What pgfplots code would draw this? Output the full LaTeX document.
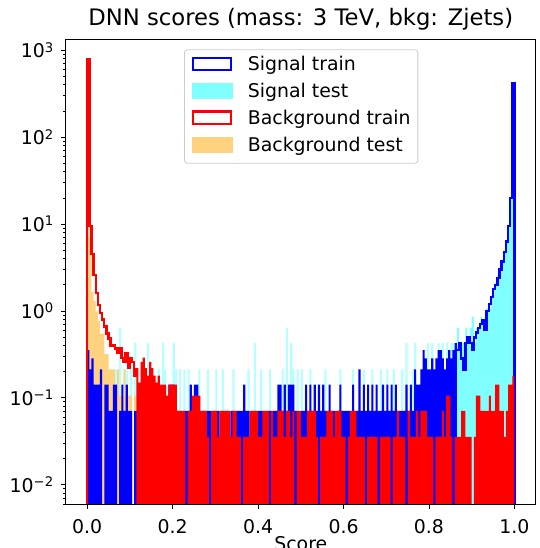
\documentclass[border=0pt]{standalone}
\usepackage{fontspec}
\setmainfont{DejaVu Sans}
\usepackage{pgfplots}
\pgfplotsset{compat=1.18}
\usepackage{pgfplotstable}
\definecolor{sigtest}{HTML}{80FFFF}
\definecolor{sigtestlight}{HTML}{B4FFFF}
\definecolor{bkgtest}{HTML}{FFD280}
\newcommand{\tl}[1]{10\raisebox{5.6pt}{\fontsize{13.2}{13.2}\selectfont #1}}
\pgfplotstableread{
x st se bt be
0.000 1e-4 1e-4 1e-4 1e-4
0.000 0.355 1.3 800 700
0.005 0.213 0.426 9.5 7
0.010 0.284 0.213 4.5 1.65
0.015 0.142 0.426 2.6 1.3
0.020 0.142 1e-4 1.6 0.99
0.025 0.142 0.213 1.17 0.77
0.030 0.213 1e-4 0.95 0.55
0.035 1e-4 0.213 0.80 0.55
0.040 0.142 1e-4 0.66 0.32
0.045 0.142 1e-4 0.55 0.32
0.050 0.071 0.213 0.48 0.213
0.055 0.071 1e-4 0.40 0.213
0.060 0.142 1e-4 0.40 0.213
0.065 0.142 0.213 0.37 0.1065
0.070 1e-4 1e-4 0.33 0.213
0.075 0.071 0.639 0.37 0.1065
0.080 0.142 1e-4 0.29 0.1065
0.085 0.071 1e-4 0.26 0.213
0.090 0.142 0.213 0.33 0.1065
0.095 0.071 1e-4 0.22 0.1065
0.100 0.071 0.213 0.29 0.1065
0.105 1e-4 1e-4 0.26 1e-4
0.110 0.071 0.426 0.18 0.1065
0.115 0.071 1e-4 0.22 1e-4
0.120 0.142 1e-4 0.15 1e-4
0.125 0.071 0.213 0.26 1e-4
0.130 0.071 1e-4 0.29 1e-4
0.135 1e-4 1e-4 0.22 1e-4
0.140 0.071 0.426 0.18 1e-4
0.145 0.071 1e-4 0.26 1e-4
0.150 0.142 0.213 0.22 1e-4
0.155 1e-4 1e-4 0.18 1e-4
0.160 0.071 1e-4 0.15 1e-4
0.165 0.071 0.213 0.18 1e-4
0.170 0.071 1e-4 0.142 1e-4
0.175 1e-4 0.426 0.142 1e-4
0.180 0.071 0.213 0.142 1e-4
0.185 0.071 1e-4 0.1065 1e-4
0.190 0.142 1e-4 0.142 1e-4
0.195 0.142 1e-4 0.142 1e-4
0.200 0.142 0.426 0.142 1e-4
0.205 0.071 0.213 0.142 1e-4
0.210 0.071 1e-4 0.071 1e-4
0.215 0.071 0.213 0.071 1e-4
0.220 1e-4 1e-4 0.071 1e-4
0.225 0.071 0.213 0.071 1e-4
0.230 0.071 1e-4 1e-4 1e-4
0.235 0.071 0.213 0.071 1e-4
0.240 0.142 1e-4 0.071 1e-4
0.245 0.071 1e-4 0.1065 1e-4
0.250 0.142 1e-4 0.1065 1e-4
0.255 0.142 1e-4 0.1065 1e-4
0.260 0.071 0.213 0.1065 1e-4
0.265 1e-4 1e-4 0.071 1e-4
0.270 0.071 1e-4 0.071 1e-4
0.275 0.071 1e-4 0.071 1e-4
0.280 0.071 0.213 0.0355 1e-4
0.285 0.071 1e-4 1e-4 1e-4
0.290 1e-4 1e-4 0.071 1e-4
0.295 0.071 1e-4 0.071 1e-4
0.300 0.071 0.213 0.071 1e-4
0.305 0.071 1e-4 0.0355 1e-4
0.310 1e-4 1e-4 0.071 1e-4
0.315 0.071 0.213 0.071 1e-4
0.320 0.071 1e-4 0.071 1e-4
0.325 0.071 1e-4 0.071 1e-4
0.330 1e-4 1e-4 0.071 1e-4
0.335 0.071 1e-4 0.0355 1e-4
0.340 0.071 0.213 0.071 1e-4
0.345 0.071 1e-4 0.071 1e-4
0.350 0.071 1e-4 0.0355 1e-4
0.355 0.071 1e-4 0.0355 1e-4
0.360 0.071 1e-4 1e-4 1e-4
0.365 0.142 1e-4 0.0355 1e-4
0.370 0.071 1e-4 0.0355 1e-4
0.375 0.071 0.213 0.0355 1e-4
0.380 1e-4 1e-4 0.071 1e-4
0.385 0.071 1e-4 0.071 1e-4
0.390 0.071 0.426 0.071 1e-4
0.395 1e-4 1e-4 0.071 1e-4
0.400 0.071 1e-4 0.0355 1e-4
0.405 0.071 0.213 0.0355 1e-4
0.410 0.071 1e-4 0.071 1e-4
0.415 1e-4 1e-4 0.071 1e-4
0.420 0.071 1e-4 0.071 1e-4
0.425 0.071 0.213 1e-4 1e-4
0.430 0.071 1e-4 0.071 1e-4
0.435 0.071 1e-4 0.0355 1e-4
0.440 0.071 1e-4 0.0355 1e-4
0.445 0.142 1e-4 0.071 1e-4
0.450 0.142 1e-4 0.071 1e-4
0.455 0.071 0.213 0.071 1e-4
0.460 0.142 1e-4 0.0355 1e-4
0.465 0.071 0.639 0.071 1e-4
0.470 0.142 1e-4 0.071 1e-4
0.475 0.142 0.426 0.0355 1e-4
0.480 0.142 0.213 0.071 1e-4
0.485 0.071 1e-4 1e-4 1e-4
0.490 0.071 0.213 0.071 1e-4
0.495 1e-4 1e-4 0.071 1e-4
0.500 0.071 0.213 0.0355 1e-4
0.505 0.071 1e-4 0.0355 1e-4
0.510 0.142 1e-4 0.0355 1e-4
0.515 0.071 1e-4 0.071 1e-4
0.520 0.142 0.213 0.071 1e-4
0.525 0.071 1e-4 0.071 1e-4
0.530 0.142 1e-4 0.071 1e-4
0.535 0.071 1e-4 0.0355 1e-4
0.540 0.142 1e-4 1e-4 1e-4
0.545 0.071 1e-4 0.0355 1e-4
0.550 0.142 1e-4 0.0355 1e-4
0.555 0.071 0.213 0.0355 1e-4
0.560 0.071 1e-4 0.071 1e-4
0.565 0.142 1e-4 0.071 1e-4
0.570 0.071 1e-4 0.071 1e-4
0.575 0.071 1e-4 0.0355 1e-4
0.580 1e-4 1e-4 0.071 1e-4
0.585 0.071 1e-4 0.071 1e-4
0.590 0.142 0.213 0.071 1e-4
0.595 0.071 1e-4 0.0355 1e-4
0.600 0.071 1e-4 0.0355 1e-4
0.605 0.071 1e-4 1e-4 1e-4
0.610 0.071 1e-4 0.0355 1e-4
0.615 1e-4 1e-4 0.071 1e-4
0.620 0.142 0.213 0.071 1e-4
0.625 0.071 1e-4 0.071 1e-4
0.630 0.071 1e-4 0.0355 1e-4
0.635 0.213 1e-4 0.0355 1e-4
0.640 0.071 1e-4 0.0355 1e-4
0.645 0.142 0.213 0.0355 1e-4
0.650 0.071 1e-4 1e-4 1e-4
0.655 0.142 1e-4 0.0355 1e-4
0.660 0.071 1e-4 0.0355 1e-4
0.665 0.142 0.213 0.0355 1e-4
0.670 0.071 1e-4 0.0355 1e-4
0.675 0.142 1e-4 0.0355 1e-4
0.680 0.071 1e-4 1e-4 1e-4
0.685 0.071 0.213 0.0355 1e-4
0.690 0.142 1e-4 0.0355 1e-4
0.695 0.071 1e-4 0.0355 1e-4
0.700 0.142 0.213 0.0355 1e-4
0.705 0.071 1e-4 0.0355 1e-4
0.710 0.142 1e-4 1e-4 1e-4
0.715 0.071 0.213 0.0355 1e-4
0.720 0.142 1e-4 0.0355 1e-4
0.725 0.071 1e-4 0.071 1e-4
0.730 0.071 1e-4 0.0355 1e-4
0.735 0.071 0.213 0.0355 1e-4
0.740 0.071 1e-4 0.0355 1e-4
0.745 0.142 0.426 1e-4 1e-4
0.750 0.071 1e-4 0.071 1e-4
0.755 0.142 1e-4 0.0355 1e-4
0.760 0.071 0.213 0.0355 1e-4
0.765 0.213 0.426 0.0355 1e-4
0.770 0.142 1e-4 0.071 1e-4
0.775 0.142 1e-4 0.0355 1e-4
0.780 0.213 0.213 0.071 1e-4
0.785 0.355 1e-4 0.071 1e-4
0.790 0.284 0.213 0.071 1e-4
0.795 0.213 0.426 0.0355 1e-4
0.800 0.213 0.213 0.0355 1e-4
0.805 0.284 0.426 0.0355 1e-4
0.810 0.213 1e-4 1e-4 1e-4
0.815 0.284 0.213 0.0355 1e-4
0.820 0.355 0.426 0.0355 1e-4
0.825 0.355 0.213 0.0355 1e-4
0.830 0.284 0.426 0.071 1e-4
0.835 0.213 0.213 0.0355 1e-4
0.840 0.284 0.426 0.1065 1e-4
0.845 0.355 0.213 0.1065 1e-4
0.850 0.284 0.426 0.0355 1e-4
0.855 0.355 0.426 1e-4 1e-4
0.860 0.426 0.213 0.0355 1e-4
0.865 0.355 0.639 0.0355 1e-4
0.870 0.426 0.426 0.0355 1e-4
0.875 0.284 0.426 0.071 1e-4
0.880 0.213 0.426 0.071 1e-4
0.885 0.426 0.639 0.0355 1e-4
0.890 0.497 0.426 0.0355 1e-4
0.895 0.426 0.639 0.0355 1e-4
0.900 0.355 0.852 1e-4 1e-4
0.905 0.497 0.426 0.0355 1e-4
0.910 0.568 0.639 0.1065 1e-4
0.915 0.639 0.639 0.1065 1e-4
0.920 0.71 0.852 0.071 1e-4
0.925 0.78 0.639 0.071 1e-4
0.930 0.6 0.852 0.071 1e-4
0.935 1.0 1.07 0.071 1e-4
0.940 1.2 1.07 0.1065 1e-4
0.945 1.45 1.5 0.071 1e-4
0.950 1.8 1.7 0.071 1e-4
0.955 2.0 2.1 0.142 1e-4
0.960 2.4 2.6 0.142 1e-4
0.965 3.0 3.1 0.071 1e-4
0.970 3.7 3.6 0.071 1e-4
0.975 4.8 4.7 0.0355 1e-4
0.980 6.3 6.6 0.071 1e-4
0.985 9.5 9.0 0.142 1e-4
0.990 20 19 0.142 1e-4
0.995 420 390 0.1775 0.1065
1.000 1e-4 1e-4 1e-4 1e-4
}\data
\begin{document}
\begin{tikzpicture}
\begin{axis}[
  at={(65.8pt,43.5pt)}, anchor=south west,
  width=470pt, height=465.2pt, scale only axis,
  xmin=-0.05, xmax=1.05,
  ymode=log, ymin=0.00593, ymax=1339,
  log origin y=infty,
  axis on top,
  tick pos=left, tick align=outside,
  major tick length=4.9pt, minor tick length=2.8pt,
  tick style={black, line width=0.8pt},
  axis line style={line width=0.8pt},
  xtick={0,0.2,0.4,0.6,0.8,1},
  xticklabels={0.0,0.2,0.4,0.6,0.8,1.0},
  ytick={0.01,0.1,1,10,100,1000},
  yticklabels={\tl{−2},\tl{−1},\tl{0},\tl{1},\tl{2},\tl{3}},
  minor ytick={0.006,0.007,0.008,0.009,0.02,0.03,0.04,0.05,0.06,0.07,0.08,0.09,0.2,0.3,0.4,0.5,0.6,0.7,0.8,0.9,2,3,4,5,6,7,8,9,20,30,40,50,60,70,80,90,200,300,400,500,600,700,800,900},
  tick label style={font=\fontsize{18.9}{22}\selectfont},
  xticklabel style={anchor=north, inner sep=0pt, yshift=-10pt},
  yticklabel style={anchor=east, inner sep=0pt, xshift=-7.5pt},
  title={DNN scores (mass: 3 TeV, bkg: Zjets)},
  title style={font=\fontsize{22.7}{27}\selectfont, at={(0.5,1)}, anchor=base, yshift=7.6pt},
  xlabel={Score},
  xlabel style={font=\fontsize{18.9}{22}\selectfont, at={(axis description cs:0.5,0)}, anchor=north, inner sep=0pt, yshift=-31.5pt},
  legend cell align=left,
  legend style={at={(axis description cs:0.2515,0.9785)}, anchor=north west,
    draw=black!20, line width=0.8pt, rounded corners=3pt, fill=white,
    inner xsep=7.3pt, inner ysep=6.9pt, row sep=7.9pt,
    font=\fontsize{18.9}{22}\selectfont,
    nodes={inner sep=0pt, text height=13.8pt, text depth=5pt},
    /tikz/every odd column/.append style={column sep=15.3pt}},
]
% signal test (filled)
\addplot[const plot, fill=sigtestlight, draw=none, forget plot, restrict x to domain=-0.001:0.8601] table[x=x,y=se] {\data} \closedcycle;
\addplot[const plot, fill=sigtest, draw=none, forget plot, restrict x to domain=0.8599:1.0001] table[x=x,y=se] {\data} \closedcycle;
% background test (filled)
\addplot[const plot, fill=bkgtest, draw=none, forget plot] table[x=x,y=be] {\data} \closedcycle;
% signal train
\addplot[const plot, fill=blue, draw=none, forget plot, restrict x to domain=-0.001:0.8651] table[x=x,y=st] {\data} \closedcycle;
\addplot[const plot, draw=blue, line width=2.4pt, forget plot, restrict x to domain=0.8649:1.0001] table[x=x,y=st] {\data};
% background train
\addplot[const plot, draw=red, line width=2.4pt, forget plot, restrict x to domain=-0.001:0.1151] table[x=x,y=bt] {\data};
\addplot[const plot, fill=red, draw=none, forget plot, restrict x to domain=0.1149:1.0001] table[x=x,y=bt] {\data} \closedcycle;
% legend
\addlegendimage{legend image code/.code={\draw[blue, line width=2.2pt, sharp corners] (1.1pt,-4.0pt) rectangle (38.9pt,8.3pt);}}
\addlegendentry{Signal train}
\addlegendimage{legend image code/.code={\fill[sigtest, sharp corners] (0pt,-5.1pt) rectangle (40pt,9.4pt);}}
\addlegendentry{Signal test}
\addlegendimage{legend image code/.code={\draw[red, line width=2.2pt, sharp corners] (1.1pt,-4.0pt) rectangle (38.9pt,8.3pt);}}
\addlegendentry{Background train}
\addlegendimage{legend image code/.code={\fill[bkgtest, sharp corners] (0pt,-5.1pt) rectangle (40pt,9.4pt);}}
\addlegendentry{Background test}
\end{axis}
\pgfresetboundingbox
\useasboundingbox (0,0) rectangle (539pt,548pt);
\end{tikzpicture}
\end{document}
